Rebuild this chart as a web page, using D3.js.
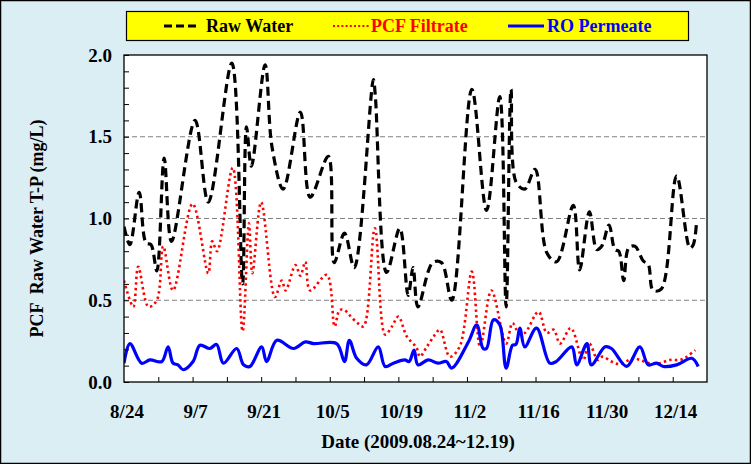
<!DOCTYPE html>
<html><head><meta charset="utf-8">
<script src="https://cdn.jsdelivr.net/npm/d3@7/dist/d3.min.js"></script>
<style>html,body{margin:0;padding:0;background:#fff}svg{display:block}</style>
</head><body><div id="chart"></div>
<script>
// ---- data (day offsets from 2009-08-24, values in mg/L) ----
const xTickDays = [0, 14, 28, 42, 56, 70, 84, 98, 112];
const xTickLabels = ["8/24", "9/7", "9/21", "10/5", "10/19", "11/2", "11/16", "11/30", "12/14"];
const yTicks = [0.0, 0.5, 1.0, 1.5, 2.0];
const seriesNames = ["Raw Water", "PCF Filtrate", "RO Permeate"];

const rawDays = [0,1.2,3.1,4.5,5.5,6.7,8.2,9.7,14.5,17.2,22,24.2,25,26,28.8,30.2,32.5,36,38,41.7,42.9,45,47,50.9,51.3,53.6,56.3,58,59,60,63,64.8,66.9,71,74,76.7,78,79,80,81.8,83.9,86.3,88.3,91.7,93,95,96.5,97.5,99,100.2,101,102,103,104.3,106,107,108,109.7,112.8,115.5,116.2,116.9];
const rawVals = [0.95,0.84,1.16,0.85,0.84,0.68,1.37,0.86,1.6,1.10,1.95,0.60,1.56,1.32,1.94,1.44,1.18,1.65,1.13,1.38,0.73,0.91,0.70,1.85,1.75,0.67,0.94,0.53,0.70,0.46,0.73,0.73,0.50,1.79,1.05,1.745,0.46,1.79,1.225,1.18,1.30,0.79,0.735,1.08,0.685,1.04,0.81,0.83,0.96,0.81,0.80,0.62,0.82,0.83,0.74,0.72,0.56,0.57,1.26,0.82,0.84,0.99];

const pcfDays = [0,1.9,2.9,5,6.7,8,10,14,17.2,18,19,22.2,24.2,25.5,26.2,28,30.8,32.2,33,35,36,37,38,41.4,43,44,45,46,47.7,48.9,51.2,53.3,54.7,56,57.7,59.7,60.4,61.8,63.5,64.5,66.5,68.5,71,72.7,75,78,79.3,80.6,81.8,84.6,86.3,87.7,89,91.2,93.7,95,96.7,97.7,99.5,101.2,103.9,105.3,107.3,109.4,111.4,113.5,114.9,116.6];
const pcfVals = [0.62,0.46,0.705,0.46,0.50,0.83,0.56,1.09,0.665,0.86,0.80,1.31,0.31,0.97,0.665,1.10,0.52,0.62,0.56,0.715,0.65,0.735,0.56,0.655,0.34,0.44,0.44,0.41,0.36,0.34,0.94,0.29,0.34,0.40,0.28,0.21,0.155,0.215,0.29,0.32,0.155,0.215,0.675,0.215,0.56,0.235,0.36,0.30,0.30,0.43,0.30,0.32,0.235,0.33,0.135,0.235,0.135,0.155,0.125,0.11,0.145,0.135,0.115,0.115,0.135,0.135,0.155,0.195];

const roDays = [0,1.2,3.6,5.3,7.7,9,10,11,12.1,14.1,15.5,17.5,18.9,20.3,23,24.4,25.7,28.1,29.1,31.2,34.6,37,38.7,43.4,45,46,47.5,49.5,51.9,53.3,55,57.3,58.2,59.2,60,62.1,64.1,65.8,66.9,70.3,72,73.3,74,75.4,76.7,78,79.3,80,80.8,81.8,84.2,86.9,88.2,91.4,92.4,94.5,95.4,98.2,99.5,102.6,105.3,107,108.7,110.1,112.8,115.9,117.2];
const roVals = [0.115,0.235,0.115,0.135,0.125,0.215,0.115,0.105,0.075,0.125,0.225,0.205,0.23,0.115,0.205,0.105,0.095,0.215,0.125,0.255,0.205,0.245,0.235,0.235,0.125,0.255,0.145,0.105,0.215,0.095,0.115,0.135,0.125,0.195,0.105,0.135,0.115,0.125,0.085,0.245,0.35,0.205,0.205,0.38,0.35,0.085,0.225,0.23,0.33,0.215,0.33,0.115,0.125,0.215,0.105,0.235,0.105,0.215,0.205,0.095,0.215,0.105,0.115,0.095,0.105,0.145,0.095];

// ---- layout ----
const W = 751, H = 464;
const m = {left: 124, top: 55, right: 707, bottom: 382};
const base = new Date(2009, 7, 24);
const dayToDate = d => new Date(base.getTime() + d * 86400000);

const svg = d3.select("#chart").append("svg").attr("width", W).attr("height", H);
svg.append("rect").attr("x", 0.5).attr("y", 0.5).attr("width", W - 1).attr("height", H - 1)
  .attr("fill", "#DBEEF4").attr("stroke", "#000").attr("stroke-width", 1.5);

const x = d3.scaleTime().domain([base, dayToDate(119)]).range([m.left, m.right]);
const y = d3.scaleLinear().domain([0, 2]).range([m.bottom, m.top]);

svg.append("rect").attr("x", m.left).attr("y", m.top)
  .attr("width", m.right - m.left).attr("height", m.bottom - m.top).attr("fill", "#fff");

// grid
svg.append("g").selectAll("line").data([0.5, 1.0, 1.5]).join("line")
  .attr("x1", m.left).attr("x2", m.right).attr("y1", d => y(d)).attr("y2", d => y(d))
  .attr("stroke", "#808080").attr("stroke-width", 1).attr("stroke-dasharray", "5,3");

// clip
svg.append("clipPath").attr("id", "clip").append("rect")
  .attr("x", m.left).attr("y", m.top).attr("width", m.right - m.left).attr("height", m.bottom - m.top);

const mk = (days, vals) => days.map((d, i) => ({d: dayToDate(d), v: vals[i]}));
const line = d3.line().x(p => x(p.d)).y(p => y(p.v)).curve(d3.curveCatmullRom.alpha(0.5));
const g = svg.append("g").attr("clip-path", "url(#clip)");
g.append("path").attr("d", line(mk(rawDays, rawVals))).attr("fill", "none")
  .attr("stroke", "#000").attr("stroke-width", 3.2).attr("stroke-dasharray", "9,5");
g.append("path").attr("d", line(mk(pcfDays, pcfVals))).attr("fill", "none")
  .attr("stroke", "#FF0000").attr("stroke-width", 2.6).attr("stroke-dasharray", "2.4,3.2");
g.append("path").attr("d", line(mk(roDays, roVals))).attr("fill", "none")
  .attr("stroke", "#0000FF").attr("stroke-width", 3.2).attr("stroke-linejoin", "round");

// axes
const font = "'Liberation Serif','Times New Roman',serif";
const yAxis = d3.axisLeft(y).tickValues(d3.range(0, 2.001, 0.1)).tickSize(-5).tickFormat("");
const gy = svg.append("g").attr("transform", `translate(${m.left},0)`).call(yAxis);
gy.select(".domain").remove();
gy.selectAll("line").attr("stroke", "#000");
svg.append("g").selectAll("text").data(yTicks).join("text")
  .attr("x", m.left - 12).attr("y", d => y(d)).attr("dy", "0.35em").attr("text-anchor", "end")
  .attr("font-family", font).attr("font-weight", "bold").attr("font-size", 19)
  .text(d => d.toFixed(1));

const xAxis = d3.axisBottom(x).tickValues(d3.range(7, 119, 7).map(dayToDate)).tickSize(-5).tickFormat("");
const gx = svg.append("g").attr("transform", `translate(0,${m.bottom})`).call(xAxis);
gx.select(".domain").remove();
gx.selectAll("line").attr("stroke", "#000");
svg.append("g").selectAll("text").data(xTickDays).join("text")
  .attr("x", d => x(dayToDate(d)) + 3).attr("y", 418).attr("text-anchor", "middle")
  .attr("font-family", font).attr("font-weight", "bold").attr("font-size", 19)
  .text((d, i) => xTickLabels[i]);

svg.append("rect").attr("x", m.left).attr("y", m.top)
  .attr("width", m.right - m.left).attr("height", m.bottom - m.top)
  .attr("fill", "none").attr("stroke", "#000").attr("stroke-width", 1.3);

// titles
svg.append("text").attr("x", 418).attr("y", 448).attr("text-anchor", "middle")
  .attr("font-family", font).attr("font-weight", "bold").attr("font-size", 19)
  .text("Date (2009.08.24~12.19)");
svg.append("text").attr("transform", `translate(43,${(m.top + m.bottom) / 2 + 10}) rotate(-90)`)
  .attr("text-anchor", "middle").attr("font-family", font).attr("font-weight", "bold").attr("font-size", 18)
  .attr("xml:space", "preserve").text("PCF  Raw Water T-P (mg/L)");

// legend
svg.append("rect").attr("x", 126.5).attr("y", 11.5).attr("width", 562).attr("height", 29)
  .attr("fill", "#FFFF00").attr("stroke", "#000").attr("stroke-width", 1.2);
const legItems = [
  {name: seriesNames[0], color: "#000", dash: "8,4", sw: 3.2, lx: 164, tx: 206},
  {name: seriesNames[1], color: "#FF0000", dash: "2,2.2", sw: 1.8, lx: 333, tx: 371},
  {name: seriesNames[2], color: "#0000FF", dash: null, sw: 3.2, lx: 508, tx: 547}
];
const lg = svg.append("g").selectAll("g").data(legItems).join("g");
lg.append("line").attr("x1", d => d.lx).attr("x2", d => d.lx + 36).attr("y1", 26).attr("y2", 26)
  .attr("stroke", d => d.color).attr("stroke-width", d => d.sw).attr("stroke-dasharray", d => d.dash);
lg.append("text").attr("x", d => d.tx).attr("y", 26).attr("dy", "0.35em")
  .attr("font-family", font).attr("font-weight", "bold").attr("font-size", 18)
  .attr("fill", d => d.color).text(d => d.name);
</script></body></html>
